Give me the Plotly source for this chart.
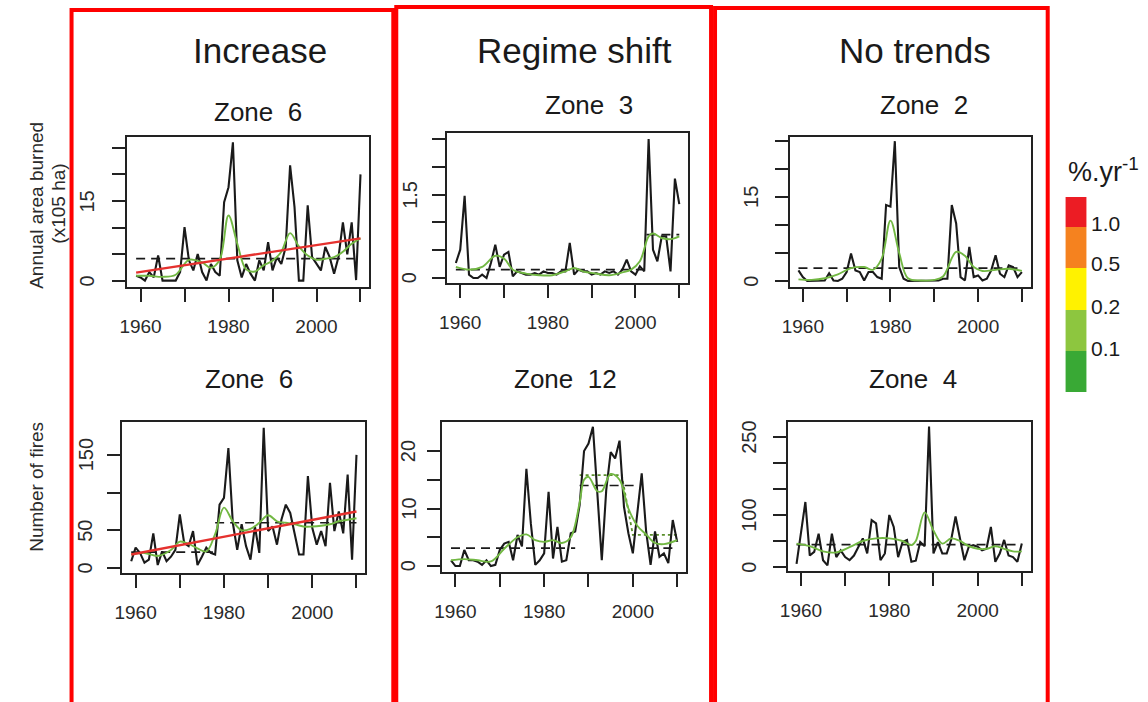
import plotly.graph_objects as go

W, H = 1148, 702

# ---------------- data ----------------
years = list(range(1959, 2011))

# Zone 6 - annual area burned (increase)
z6_area = [1.0, 0.7, 0.1, 1.7, 0.7, 4.8, 0.1, 0.1, 0.1, 0.1, 1.7, 10.1, 3.9, 2.0, 5.1, 1.7, 0.1, 3.2, 1.7, 1.0,
           14.8, 17.6, 26.0, 3.9, 0.7, 3.2, 1.4, 0.1, 3.9, 2.0, 7.3, 2.0, 4.5, 3.2, 6.4, 21.7, 13.9, 0.1, 0.1, 14.2,
           4.5, 3.2, 2.0, 6.4, 4.5, 1.4, 4.5, 11.0, 5.0, 11.0, 0.2, 20.0]
z6_area_smooth_years = [1959, 1962, 1965, 1968, 1971, 1974, 1976, 1978, 1980, 1982, 1984, 1986, 1988, 1990, 1992,
                        1994, 1996, 1998, 2000, 2002, 2004, 2006, 2008, 2010]
z6_area_smooth = [1.0, 1.0, 0.8, 1.2, 4.0, 3.5, 2.5, 4.0, 12.3, 7.0, 2.2, 1.8, 3.0, 3.8, 5.5, 9.0, 6.5, 4.8, 4.0,
                  4.2, 4.5, 5.5, 7.0, 8.0]
z6_area_trend_years = [1959, 2010]
z6_area_trend = [1.6, 8.0]
z6_area_mean_years = [1959, 2010]
z6_area_mean = [4.2, 4.2]

# Zone 3 - annual area burned (regime shift)
z3_area = [0.27, 0.51, 1.48, 0.06, 0.0, 0.0, 0.06, 0.0, 0.27, 0.6, 0.2, 0.42, 0.47, 0.03, 0.12, 0.09, 0.06, 0.06,
           0.09, 0.06, 0.12, 0.09, 0.09, 0.06, 0.12, 0.12, 0.63, 0.06, 0.15, 0.12, 0.12, 0.06, 0.09, 0.06, 0.12,
           0.09, 0.12, 0.06, 0.15, 0.33, 0.12, 0.06, 0.21, 0.12, 2.5, 0.51, 0.3, 0.75, 0.75, 0.12, 1.79, 1.33]
z3_area_smooth_years = [1959, 1962, 1965, 1968, 1970, 1972, 1975, 1978, 1981, 1984, 1986, 1988, 1991, 1994, 1997,
                        1999, 2001, 2003, 2004, 2006, 2008, 2010]
z3_area_smooth = [0.2, 0.15, 0.2, 0.4, 0.35, 0.15, 0.08, 0.05, 0.05, 0.12, 0.18, 0.12, 0.08, 0.05, 0.1, 0.15,
                  0.3, 0.75, 0.8, 0.72, 0.7, 0.75]
z3_area_mean_years = [1959, 2001.5, None, 2002.5, 2010]
z3_area_mean = [0.15, 0.15, None, 0.78, 0.78]

# Zone 2 - annual area burned (no trends)
z2_area = [1.9, 0.7, 0.0, 0.0, 0.0, 0.1, 0.1, 1.4, 0.1, 0.0, 0.4, 1.6, 4.9, 1.9, 1.6, 0.1, 1.6, 1.6, 0.7, 0.4,
           13.6, 13.3, 25.0, 2.5, 0.4, 0.0, 0.0, 0.0, 0.0, 0.1, 0.1, 0.0, 0.1, 0.4, 0.4, 13.6, 10.3, 0.7, 0.1, 6.1,
           0.7, 1.0, 0.1, 0.4, 1.9, 4.6, 1.3, 0.7, 2.8, 2.5, 0.7, 1.6]
z2_area_smooth_years = [1959, 1962, 1965, 1968, 1971, 1974, 1976, 1978, 1980, 1982, 1984, 1987, 1990, 1992, 1995,
                        1997, 1999, 2001, 2004, 2007, 2010]
z2_area_smooth = [0.3, 0.2, 0.5, 1.2, 2.3, 2.5, 2.0, 4.0, 10.8, 5.0, 0.5, 0.1, 0.2, 0.8, 5.2, 4.5, 2.5, 1.8,
                  2.0, 2.2, 1.8]
z2_area_mean_years = [1959, 2010]
z2_area_mean = [2.3, 2.3]

# Zone 6 - number of fires (increase)
z6_fires = [9, 27, 20, 7, 11, 46, 4, 22, 9, 15, 24, 71, 33, 29, 49, 4, 15, 27, 20, 18, 84, 93, 159, 60, 24, 58,
            29, 11, 55, 20, 186, 49, 55, 31, 64, 84, 73, 46, 18, 18, 122, 53, 31, 49, 29, 113, 49, 75, 46, 124,
            11, 150]
z6_fires_smooth_years = [1959, 1962, 1965, 1968, 1970, 1972, 1974, 1976, 1978, 1980, 1982, 1984, 1986, 1988,
                         1990, 1992, 1994, 1996, 1998, 2000, 2002, 2004, 2006, 2008, 2010]
z6_fires_smooth = [18, 20, 16, 24, 35, 32, 26, 22, 45, 80, 62, 50, 52, 60, 70, 62, 60, 58, 55, 55, 56, 58, 62,
                   64, 66]
z6_fires_trend_years = [1959, 2010]
z6_fires_trend = [18, 75]
z6_fires_mean_years = [1959, 1977.5, None, 1978, 2010]
z6_fires_mean = [21, 21, None, 60, 60]

# Zone 12 - number of fires (regime shift)
z12_fires = [1.0, 0.0, 0.0, 2.8, 1.0, 1.0, 0.75, 0.2, 1.0, 0.0, 0.2, 2.8, 3.9, 4.2, 1.0, 5.4, 3.4, 16.9, 7.4,
             0.2, 1.0, 2.2, 12.9, 1.3, 6.8, 0.75, 1.0, 5.7, 6.0, 10.6, 20.0, 21.3, 24.2, 13.2, 1.0, 13.2, 19.8,
             18.7, 21.8, 10.3, 5.7, 2.2, 9.0, 16.1, 6.0, 0.2, 6.0, 1.6, 2.2, 0.5, 8.0, 4.2]
z12_fires_smooth_years = [1959, 1962, 1965, 1968, 1971, 1974, 1976, 1978, 1980, 1982, 1984, 1986, 1988, 1989,
                          1990, 1992, 1993, 1995, 1997, 1999, 2001, 2003, 2005, 2007, 2010]
z12_fires_smooth = [1.0, 1.2, 1.0, 0.8, 3.0, 5.0, 5.5, 4.5, 4.2, 4.5, 4.0, 5.0, 11.0, 15.0, 15.5, 13.0, 13.0,
                    16.0, 15.0, 10.0, 7.0, 5.5, 4.0, 3.8, 4.5]
z12_fires_mean_years = [1959, 1987, None, 1988, 2000.5, None, 2003.5, 2010]
z12_fires_mean = [3.1, 3.1, None, 14.0, 14.0, None, 3.1, 3.1]
z12_fires_band_years = [1988, 1997.5, 2000, 2010]
z12_fires_band = [15.8, 15.8, 5.4, 5.4]

# Zone 4 - number of fires (no trends)
z4_fires = [6, 70, 125, 22, 29, 64, 13, 3, 64, 19, 32, 19, 13, 22, 39, 55, 26, 90, 84, 13, 26, 100, 77, 19, 48,
            52, 10, 12, 48, 40, 270, 26, 48, 26, 26, 52, 97, 58, 13, 39, 42, 39, 32, 35, 77, 10, 26, 52, 22, 19,
            10, 45]
z4_fires_smooth_years = [1959, 1962, 1965, 1968, 1971, 1974, 1977, 1980, 1983, 1985, 1986, 1988, 1990, 1992,
                         1994, 1996, 1998, 2000, 2002, 2004, 2006, 2008, 2010]
z4_fires_smooth = [45, 40, 30, 28, 38, 50, 55, 55, 50, 42, 50, 105, 70, 45, 55, 50, 40, 35, 35, 40, 35, 30, 30]
z4_fires_mean_years = [1959, 2010]
z4_fires_mean = [43, 43]

# tick marks and labels
x_labelvals = [1960, 1980, 2000]
x_labeltext = ["1960", "1980", "2000"]
x_minorvals = [1970, 1990, 2010]
y_tickvals = [[0, 5, 10, 15, 20, 25], [0, 0.5, 1, 1.5, 2, 2.5], [0, 5, 10, 15, 20, 25],
              [0, 50, 100, 150], [0, 5, 10, 15, 20], [0, 50, 100, 150, 200, 250]]
y_labelvals = [[0, 15], [0, 1.5], [0, 15], [0, 50, 150], [0, 10, 20], [0, 100, 250]]
y_labeltext = [["0", "15"], ["0", "1.5"], ["0", "15"], ["0", "50", "150"], ["0", "10", "20"], ["0", "100", "250"]]

column_titles = ["Increase", "Regime shift", "No trends"]
panel_titles = ["Zone\u00a0\u00a06", "Zone\u00a0\u00a03", "Zone\u00a0\u00a02",
                "Zone\u00a0\u00a06", "Zone\u00a0\u00a012", "Zone\u00a0\u00a04"]
row_title_lines = ["Annual area burned", "(x105 ha)", "Number of fires"]

legend_title = "%.yr<sup>-1</sup>"
legend_labels = ["1.0", "0.5", "0.2", "0.1"]
legend_colors = ["#ec1c24", "#f5821f", "#fff200", "#8dc63f", "#39a935"]

# ---------------- layout helpers ----------------
def px(x):
    return x / W

def py(y):
    return 1 - y / H

FONT = "Liberation Sans, Arial, sans-serif"
BLACK = "#1a1a1a"
GREEN = "#72b843"
RED = "#e5312e"

# panel frames in pixels: left, right, top, bottom
frames = [
    (120, 364, 137, 287),
    (442, 685, 133, 283),
    (787, 1030, 137, 287),
    (115, 360, 422, 573),
    (437, 683, 422, 572),
    (785, 1030, 422, 571),
]
y_ranges = [(-1.1, 27.0), (-0.09, 2.61), (-1.07, 25.75), (-6.6, 193.6), (-1.04, 25.04), (-7.7, 278.8)]
y_label_offset = [40, 38, 39, 37, 34, 39]

panels = [
    dict(obs=z6_area, sm=(z6_area_smooth_years, z6_area_smooth), trend=(z6_area_trend_years, z6_area_trend),
         mean=(z6_area_mean_years, z6_area_mean)),
    dict(obs=z3_area, sm=(z3_area_smooth_years, z3_area_smooth), mean=(z3_area_mean_years, z3_area_mean)),
    dict(obs=z2_area, sm=(z2_area_smooth_years, z2_area_smooth), mean=(z2_area_mean_years, z2_area_mean)),
    dict(obs=z6_fires, sm=(z6_fires_smooth_years, z6_fires_smooth), trend=(z6_fires_trend_years, z6_fires_trend),
         mean=(z6_fires_mean_years, z6_fires_mean)),
    dict(obs=z12_fires, sm=(z12_fires_smooth_years, z12_fires_smooth), mean=(z12_fires_mean_years, z12_fires_mean),
         band=(z12_fires_band_years, z12_fires_band)),
    dict(obs=z4_fires, sm=(z4_fires_smooth_years, z4_fires_smooth), mean=(z4_fires_mean_years, z4_fires_mean)),
]

fig = go.Figure()
layout = dict(
    width=W, height=H, margin=dict(l=0, r=0, t=0, b=0),
    paper_bgcolor="white", plot_bgcolor="white", showlegend=False,
    font=dict(family=FONT, color="#222"),
)
annotations = []

for i, (p, (l, r, t, b)) in enumerate(zip(panels, frames)):
    n = i + 1
    xa = "x" if n == 1 else f"x{n}"
    ya = "y" if n == 1 else f"y{n}"
    fig.add_trace(go.Scatter(x=p["mean"][0], y=p["mean"][1], mode="lines", xaxis=xa, yaxis=ya,
                             line=dict(color=BLACK, width=1.7, dash="9px,6px"), connectgaps=False))
    if "band" in p:
        fig.add_trace(go.Scatter(x=p["band"][0], y=p["band"][1], mode="lines", xaxis=xa, yaxis=ya,
                                 line=dict(color="#5a8f2c", width=1.8, dash="dot")))
    fig.add_trace(go.Scatter(x=years, y=p["obs"], mode="lines", xaxis=xa, yaxis=ya,
                             line=dict(color=BLACK, width=2.1)))
    fig.add_trace(go.Scatter(x=p["sm"][0], y=p["sm"][1], mode="lines", xaxis=xa, yaxis=ya,
                             line=dict(color=GREEN, width=1.9, shape="spline", smoothing=1.0)))
    if "trend" in p:
        fig.add_trace(go.Scatter(x=p["trend"][0], y=p["trend"][1], mode="lines", xaxis=xa, yaxis=ya,
                                 line=dict(color=RED, width=2.4)))

    axis_common = dict(showgrid=False, zeroline=False, showline=True, mirror=True, linecolor="#222",
                       linewidth=1.9, ticks="outside", ticklen=13, tickwidth=1.6, tickcolor="#222",
                       tickfont=dict(family=FONT, size=19, color="#2a2a2a"))
    layout["xaxis" if n == 1 else f"xaxis{n}"] = dict(
        axis_common, domain=[px(l), px(r)], anchor=ya, range=[1956.96, 2012.04],
        tickmode="array", tickvals=x_labelvals, ticktext=x_labeltext, ticklabelstandoff=8,
        minor=dict(tickmode="array", tickvals=x_minorvals, ticks="outside", ticklen=13, tickwidth=1.6,
                   tickcolor="#222", showgrid=False))
    layout["yaxis" if n == 1 else f"yaxis{n}"] = dict(
        axis_common, domain=[py(b), py(t)], anchor=xa, range=list(y_ranges[i]),
        tickmode="array", tickvals=y_tickvals[i], showticklabels=False)
    # rotated y tick labels (R style, parallel to the axis)
    for v, txt in zip(y_labelvals[i], y_labeltext[i]):
        annotations.append(dict(text=txt, x=px(l - y_label_offset[i]), y=v, xref="paper", yref=ya,
                                showarrow=False, textangle=-90, xanchor="center", yanchor="middle",
                                font=dict(family=FONT, size=20, color="#2a2a2a")))

fig.update_layout(**layout)

for txt, cx in zip(column_titles, [254, 570, 913]):
    annotations.append(dict(text=txt, x=px(cx), y=py(50), xref="paper", yref="paper", showarrow=False,
                            xanchor="center", yanchor="middle", font=dict(family=FONT, size=35, color="#1a1a1a")))
title_pos = [(252, 112), (585, 105), (922, 105), (243, 379), (561, 379), (911, 379)]
for txt, (cx, cy) in zip(panel_titles, title_pos):
    annotations.append(dict(text=txt, x=px(cx), y=py(cy), xref="paper", yref="paper", showarrow=False,
                            xanchor="center", yanchor="middle", font=dict(family=FONT, size=26, color="#1a1a1a")))
for txt, (cx, cy) in zip(row_title_lines, [(28, 205), (50, 204), (28, 487)]):
    annotations.append(dict(text=txt, x=px(cx), y=py(cy), xref="paper", yref="paper", showarrow=False,
                            textangle=-90, xanchor="center", yanchor="middle",
                            font=dict(family=FONT, size=19, color="#2a2a2a")))
annotations.append(dict(text=legend_title, x=px(1065), y=py(170), xref="paper", yref="paper",
                        showarrow=False, xanchor="left", yanchor="middle",
                        font=dict(family=FONT, size=27, color="#1a1a1a")))
for txt, cy in zip(legend_labels, [223, 263, 306, 348]):
    annotations.append(dict(text=txt, x=px(1089), y=py(cy), xref="paper", yref="paper", showarrow=False,
                            xanchor="left", yanchor="middle", font=dict(family=FONT, size=21, color="#1a1a1a")))

shapes = []
block_edges = [197, 227, 268, 310, 351, 392]
for c, y0, y1 in zip(legend_colors, block_edges[:-1], block_edges[1:]):
    shapes.append(dict(type="rect", xref="paper", yref="paper", x0=px(1065), x1=px(1086), y0=py(y1), y1=py(y0),
                       fillcolor=c, line=dict(width=0), layer="above"))
for l, r, t in [(64, 388, 10), (391, 708, 7), (712, 1047, 8)]:
    path = f"M {px(l)},{py(H + 5)} L {px(l)},{py(t)} L {px(r)},{py(t)} L {px(r)},{py(H + 5)}"
    shapes.append(dict(type="path", xref="paper", yref="paper", path=path,
                       line=dict(color="#ff0000", width=4), layer="above"))

fig.update_layout(annotations=annotations, shapes=shapes)
fig.write_html("out.html")
